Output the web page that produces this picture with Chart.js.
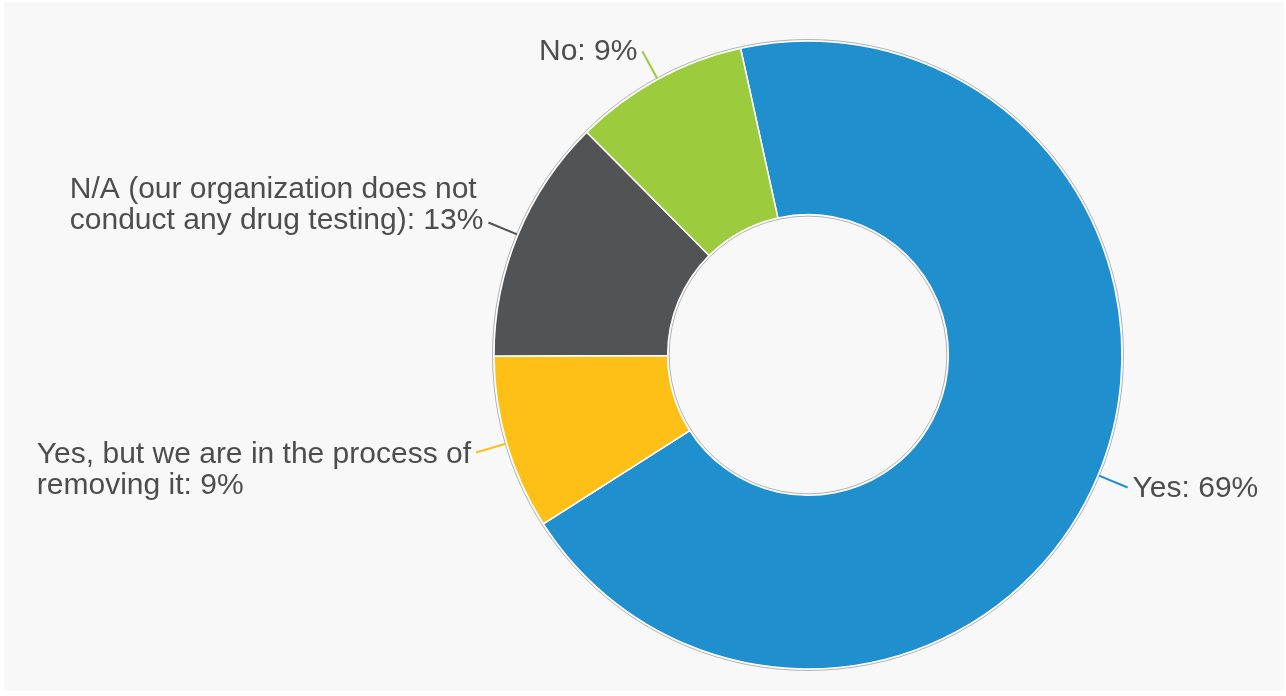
<!DOCTYPE html>
<html>
<head>
<meta charset="utf-8">
<script src="https://cdn.jsdelivr.net/npm/chart.js@4/dist/chart.umd.min.js"></script>
<style>
  html, body { margin: 0; padding: 0; background: #ffffff; }
  #wrap { width: 1286px; height: 696px; }
</style>
</head>
<body>
<div id="wrap"><canvas id="pie" width="1286" height="696"></canvas></div>
<script>
// data (slice sizes estimated, labels show rounded %)
const categories = [
  ["Yes"],
  ["Yes, but we are in the process of", "removing it"],
  ["N/A (our organization does not", "conduct any drug testing)"],
  ["No"]
];
const values = [69.4, 9, 12.6, 9];
const colors = ["#1f8fce", "#fec016", "#525355", "#9ccb3d"];

// background panel with a thin white margin
const panelBg = {
  id: "panelBg",
  beforeDraw(chart) {
    const ctx = chart.ctx;
    ctx.save();
    ctx.fillStyle = "#ffffff";
    ctx.fillRect(0, 0, chart.width, chart.height);
    ctx.fillStyle = "#f8f8f8";
    ctx.fillRect(4, 2, chart.width - 6, chart.height - 7);
    ctx.restore();
  }
};

// gray rings + leader lines and labels
const sliceLabels = {
  id: "sliceLabels",
  afterDatasetsDraw(chart) {
    const ctx = chart.ctx;
    const meta = chart.getDatasetMeta(0);
    const first = meta.data[0];
    const cx = first.x, cy = first.y;
    const rOut = first.outerRadius, rIn = first.innerRadius;

    ctx.save();
    ctx.strokeStyle = "#b4b4b4";
    ctx.lineWidth = 1;
    ctx.beginPath();
    ctx.arc(cx, cy, rOut + 1.5, 0, Math.PI * 2);
    ctx.stroke();
    ctx.beginPath();
    ctx.arc(cx, cy, rIn - 1.5, 0, Math.PI * 2);
    ctx.stroke();

    ctx.font = "30px 'Liberation Sans', Arial, sans-serif";
    ctx.fillStyle = "#4d4d4d";
    ctx.textBaseline = "middle";
    ctx.textAlign = "left";
    const lineH = 31;

    meta.data.forEach((arc, i) => {
      const mid = (arc.startAngle + arc.endAngle) / 2;
      const cos = Math.cos(mid), sin = Math.sin(mid);
      const x1 = cx + cos * (rOut + 1), y1 = cy + sin * (rOut + 1);
      const x2 = cx + cos * (rOut + 32), y2 = cy + sin * (rOut + 32);

      ctx.strokeStyle = colors[i];
      ctx.lineWidth = 2;
      ctx.beginPath();
      ctx.moveTo(x1, y1);
      ctx.lineTo(x2, y2);
      ctx.stroke();

      const lines = categories[i].slice();
      lines[lines.length - 1] += ": " + Math.round(values[i]) + "%";
      const w = Math.max(...lines.map(l => ctx.measureText(l).width));
      const tx = cos < 0 ? x2 - 5 - w : x2 + 5;
      let ty;
      if (lines.length === 1) ty = y2 + 1;
      else if (y2 < cy) ty = y2 - 2 - (lines.length - 1) * lineH;
      else ty = y2 + 2;
      lines.forEach((ln, k) => ctx.fillText(ln, tx, ty + k * lineH));
    });
    ctx.restore();
  }
};

new Chart(document.getElementById("pie"), {
  type: "doughnut",
  data: {
    labels: categories,
    datasets: [{
      data: values,
      backgroundColor: colors,
      borderColor: "#ffffff",
      borderWidth: 1.5
    }]
  },
  options: {
    responsive: false,
    animation: false,
    events: [],
    rotation: -12.4,
    radius: 314,
    cutout: 140,
    layout: { padding: { left: 494, right: 164, top: 41, bottom: 27 } },
    plugins: {
      legend: { display: false },
      tooltip: { enabled: false }
    }
  },
  plugins: [panelBg, sliceLabels]
});
</script>
</body>
</html>
